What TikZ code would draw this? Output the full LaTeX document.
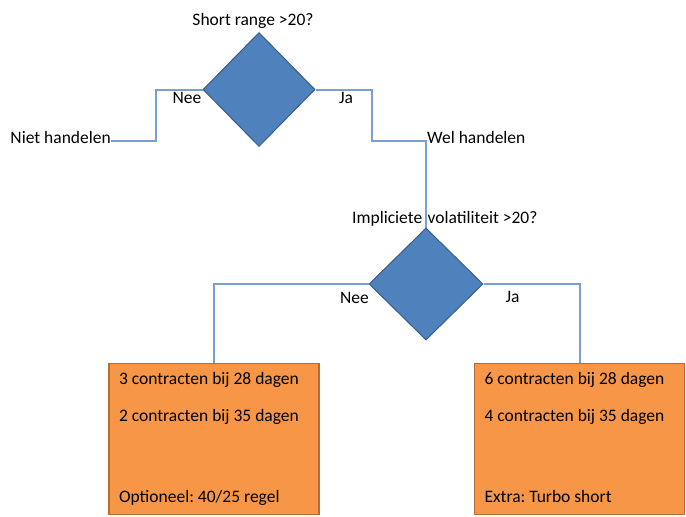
\documentclass[tikz,border=0pt]{standalone}
\usepackage{fontspec}
\setmainfont{Carlito}
\usetikzlibrary{positioning,shapes.geometric}
\definecolor{qblue}{RGB}{79,129,189}
\definecolor{qedge}{RGB}{56,93,138}
\definecolor{wire}{RGB}{120,160,212}
\definecolor{advfill}{RGB}{247,150,70}
\definecolor{advedge}{RGB}{182,109,49}
\newcommand{\plainspaces}{\frenchspacing\spaceskip=0pt\relax\xspaceskip=0pt\relax}
\tikzset{
  decide/.style={diamond, draw=qedge, fill=qblue, line width=1pt, inner sep=0pt,
                 minimum width=112pt, minimum height=114pt},
  link/.style  ={draw=wire, line width=2pt},
  lbl/.style   ={inner sep=0pt, font=\fontsize{17.5}{21}\selectfont},
  advice/.style={rectangle, draw=advedge, fill=advfill, line width=1.5pt,
                 minimum height=151pt, text width=190pt, inner xsep=10pt, align=flush left,
                 font=\fontsize{17.5}{21}\selectfont},
}

\begin{document}
\begin{tikzpicture}[x=1pt,y=-1pt]
  \useasboundingbox (0,0) rectangle (686,517);

  % first question
  \node[lbl, anchor=base] (q1) at (253,25) {Short range >20?};
  \node[decide] (d1) at (259,89.5) {};
  \node[lbl, anchor=base] (nee1) at (187,103) {Nee};
  \node[lbl, anchor=base] (ja1) at (346,103) {Ja};
  \node[lbl, anchor=base east] (niet) at (111,143) {Niet handelen};
  \coordinate (split) at (426,141);
  \node[lbl, anchor=base west] (wel) at (427,143) {Wel handelen};

  % second question
  \node[lbl, anchor=base west] (q2) at (352,223) {Impliciete\hspace{5.5pt}volatiliteit >20?};
  \node[decide, minimum width=114pt, minimum height=112pt] (d2) at (426,284) {};
  \node[lbl, anchor=base] (nee2) at (354.5,303) {Nee};
  \node[lbl, anchor=base] (ja2) at (512.5,302) {Ja};

  % advice boxes
  \node[advice] (lbox) at (214,439)
    {\plainspaces\strut 3 contracten bij 28 dagen\\[16pt]\strut 2 contracten bij 35 dagen\\[60pt]\strut Optioneel: 40/25 regel};
  \node[advice] (rbox) at (579.5,439)
    {\plainspaces\strut 6 contracten bij 28 dagen\\[16pt]\strut 4 contracten bij 35 dagen\\[60pt]\strut Extra: Turbo short};

  % connectors
  \draw[link] (d1.west) -- ++(-47,0) |- ([yshift=2pt]niet.base east);
  \draw[link] (d1.east) -- ++(56,0) |- (split) -- (d2.north);
  \draw[link] (d2.west) -| (lbox.north);
  \draw[link] (d2.east) -| (rbox.north);
\end{tikzpicture}
\end{document}
